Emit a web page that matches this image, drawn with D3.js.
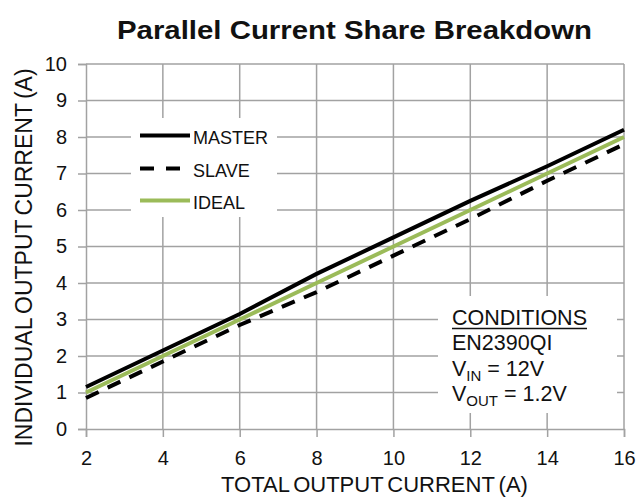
<!DOCTYPE html>
<html>
<head>
<meta charset="utf-8">
<script src="https://cdn.jsdelivr.net/npm/d3@7/dist/d3.min.js"></script>
<style>
  html, body { margin: 0; padding: 0; background: #fff; }
  svg { display: block; font-family: "Liberation Sans", Arial, Helvetica, sans-serif; }
</style>
</head>
<body>
<svg id="chart" width="637" height="498"></svg>
<script>
// Total output current (A) on the x axis
const totalCurrent = [2, 4, 6, 8, 10, 12, 14, 16];
// Individual output current (A) of each regulator
const masterCurrent = [1.15, 2.15, 3.15, 4.25, 5.25, 6.25, 7.2, 8.2];
const slaveCurrent  = [0.85, 1.85, 2.85, 3.75, 4.75, 5.75, 6.8, 7.8];
const idealCurrent  = [1, 2, 3, 4, 5, 6, 7, 8];

const xTicks = [2, 4, 6, 8, 10, 12, 14, 16];
const yTicks = [0, 1, 2, 3, 4, 5, 6, 7, 8, 9, 10];

const seriesNames = ["MASTER", "SLAVE", "IDEAL"];
const conditionLines = ["EN2390QI"];

const svg = d3.select("#chart");
const margin = { left: 86, right: 13, top: 64, bottom: 69 };
const W = 637, H = 498;

const x = d3.scaleLinear().domain([2, 16]).range([margin.left, W - margin.right]);
const y = d3.scaleLinear().domain([0, 10]).range([H - margin.bottom, margin.top]);

const gridColor = "#a2a2a2";

// Title
svg.append("text")
  .attr("x", 117).attr("y", 39)
  .attr("font-size", 26).attr("font-weight", "bold")
  .attr("textLength", 475).attr("lengthAdjust", "spacingAndGlyphs")
  .attr("fill", "#111")
  .text("Parallel Current Share Breakdown");

// Gridlines
const grid = svg.append("g");
grid.selectAll("line.h").data(yTicks.filter(d => d > 0)).join("line")
  .attr("x1", x(2)).attr("x2", x(16))
  .attr("y1", d => y(d)).attr("y2", d => y(d))
  .attr("stroke", gridColor).attr("stroke-width", 1.5);
grid.selectAll("line.v").data(xTicks.filter(d => d > 2)).join("line")
  .attr("x1", d => x(d)).attr("x2", d => x(d))
  .attr("y1", y(0)).attr("y2", y(10))
  .attr("stroke", gridColor).attr("stroke-width", 1.5);

// Axes
const yAxis = svg.append("g")
  .attr("transform", `translate(${x(2)},0)`)
  .call(d3.axisLeft(y).tickValues(yTicks).tickSize(8).tickPadding(11).tickFormat(d3.format("d")));
const xAxis = svg.append("g")
  .attr("transform", `translate(0,${y(0)})`)
  .call(d3.axisBottom(x).tickValues(xTicks).tickSize(8).tickPadding(14).tickFormat(d3.format("d")));
[xAxis, yAxis].forEach(a => {
  a.select(".domain").attr("stroke", gridColor).attr("stroke-width", 1.5);
  a.selectAll(".tick line").attr("stroke", gridColor).attr("stroke-width", 1.5);
  a.selectAll(".tick text").attr("font-size", 20).attr("fill", "#111")
    .attr("font-family", "'Liberation Sans', Arial, sans-serif");
});

// Axis titles
svg.append("text")
  .attr("transform", `translate(32,${257.5}) rotate(-90)`)
  .attr("text-anchor", "middle")
  .attr("font-size", 23).attr("fill", "#111").attr("word-spacing", -2)
  .text("INDIVIDUAL OUTPUT CURRENT (A)");
svg.append("text")
  .attr("x", 221).attr("y", 492)
  .attr("font-size", 22).attr("fill", "#111").attr("word-spacing", -2)
  .text("TOTAL OUTPUT CURRENT (A)");

// Series lines
const line = d3.line().x(d => x(d[0])).y(d => y(d[1]));
const series = [
  { name: seriesNames[0], values: masterCurrent, color: "#000", dash: null },
  { name: seriesNames[1], values: slaveCurrent, color: "#000", dash: "14,10" },
  { name: seriesNames[2], values: idealCurrent, color: "#9bbb59", dash: null }
];
svg.append("g").selectAll("path").data(series).join("path")
  .attr("d", s => line(totalCurrent.map((t, i) => [t, s.values[i]])))
  .attr("fill", "none")
  .attr("stroke", s => s.color)
  .attr("stroke-width", 4)
  .attr("stroke-dasharray", s => s.dash);

// Legend
const legend = svg.append("g");
legend.append("rect").attr("x", 131).attr("y", 118).attr("width", 146).attr("height", 99).attr("fill", "#fff");
const legendY = [135.5, 168.5, 200.5];
series.forEach((s, i) => {
  legend.append("line")
    .attr("x1", 140).attr("x2", 190)
    .attr("y1", legendY[i]).attr("y2", legendY[i])
    .attr("stroke", s.color).attr("stroke-width", 4)
    .attr("stroke-dasharray", s.dash ? "14,12" : null);
  legend.append("text")
    .attr("x", 193).attr("y", legendY[i] + 8.5)
    .attr("font-size", 18).attr("fill", "#111")
    .text(s.name);
});

// Conditions box
const cond = svg.append("g");
cond.append("rect").attr("x", 438).attr("y", 296).attr("width", 179).attr("height", 117).attr("fill", "#fff");
const hdr = cond.append("text")
  .attr("x", 452).attr("y", 325).attr("font-size", 21.5).attr("fill", "#111")
  .text("CONDITIONS");
const hw = hdr.node().getComputedTextLength();
cond.append("line")
  .attr("x1", 452).attr("x2", 452 + hw)
  .attr("y1", 328.5).attr("y2", 328.5)
  .attr("stroke", "#111").attr("stroke-width", 1.5);
cond.append("text")
  .attr("x", 452).attr("y", 350).attr("font-size", 21.5).attr("fill", "#111")
  .text(conditionLines[0]);
const vin = cond.append("text")
  .attr("x", 452).attr("y", 376).attr("font-size", 21.5).attr("fill", "#111");
vin.append("tspan").text("V");
vin.append("tspan").attr("font-size", 15).attr("dy", 5).text("IN");
vin.append("tspan").attr("dy", -5).text(" = 12V");
const vout = cond.append("text")
  .attr("x", 452).attr("y", 401).attr("font-size", 21.5).attr("fill", "#111");
vout.append("tspan").text("V");
vout.append("tspan").attr("font-size", 15).attr("dy", 5).text("OUT");
vout.append("tspan").attr("dy", -5).text(" = 1.2V");
</script>
</body>
</html>
